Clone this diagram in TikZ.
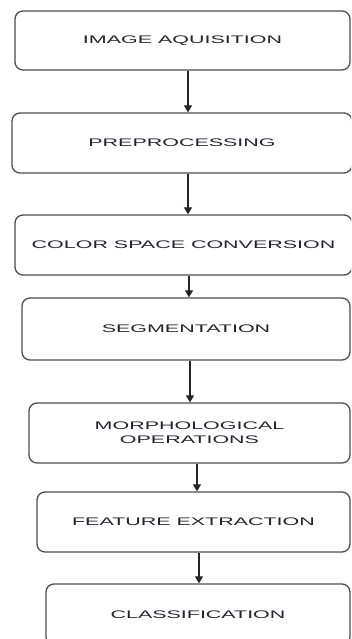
\documentclass[tikz,border=0pt]{standalone}
\usepackage{fontspec}
\setmainfont{Liberation Sans}
\usepackage{graphicx}
\usetikzlibrary{arrows.meta}
\definecolor{boxGray}{HTML}{4D4D4D}
\definecolor{txtDark}{HTML}{23232F}
\newcommand{\wide}[1]{\scalebox{1.95}[1]{#1}}

\begin{document}
\begin{tikzpicture}[x=1pt, y=-1pt,
    stage/.style={draw=boxGray, line width=1.3pt, rounded corners=8pt, fill=white, text=txtDark, align=center, inner sep=0pt, font=\fontsize{11}{14.3}\selectfont},
    flow/.style={draw=black!85, line width=1.2pt, -{Triangle[length=7pt, width=8pt]}}]
    \useasboundingbox (0,0) rectangle (351,639);
    \clip (0,0) rectangle (351,639);
    \node[stage, minimum width=335pt, minimum height=59pt] (img) at (182.5,40.5) {\wide{IMAGE AQUISITION}};
    \node[stage, minimum width=340pt, minimum height=60pt] (pre) at (182,143) {\wide{PREPROCESSING}};
    \node[stage, minimum width=337pt, minimum height=60pt] (csc) at (183.5,245) {\wide{COLOR SPACE CONVERSION}};
    \node[stage, minimum width=328pt, minimum height=62pt] (seg) at (186,329) {\wide{SEGMENTATION}};
    \node[stage, minimum width=321pt, minimum height=60pt] (mor) at (189.5,433) {\wide{MORPHOLOGICAL}\\\wide{OPERATIONS}};
    \node[stage, minimum width=313pt, minimum height=60pt] (fex) at (193.5,522) {\wide{FEATURE EXTRACTION}};
    \node[stage, minimum width=304pt, minimum height=61pt] (cls) at (198,614.5) {\wide{CLASSIFICATION}};
    \draw[flow] ([xshift=5.5pt]img.south) -- ([xshift=5.5pt]img.south |- pre.north);
    \draw[flow] ([xshift=6pt]pre.south) -- ([xshift=6pt]pre.south |- csc.north);
    \draw[flow] ([xshift=5.5pt]csc.south) -- ([xshift=5.5pt]csc.south |- seg.north);
    \draw[flow] ([xshift=4pt]seg.south) -- ([xshift=4pt]seg.south |- mor.north);
    \draw[flow] ([xshift=7.5pt]mor.south) -- ([xshift=7.5pt]mor.south |- fex.north);
    \draw[flow] ([xshift=5.5pt]fex.south) -- ([xshift=5.5pt]fex.south |- cls.north);
  \end{tikzpicture}
\end{document}
